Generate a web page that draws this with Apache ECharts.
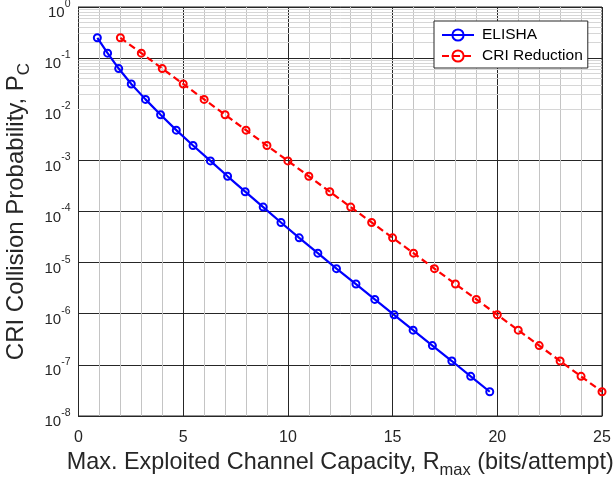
<!DOCTYPE html>
<html>
<head>
<meta charset="utf-8">
<script src="https://cdn.jsdelivr.net/npm/echarts@6/dist/echarts.min.js"></script>
<style>
html,body{margin:0;padding:0;background:#fff;}
#chart{width:613px;height:479px;}
</style>
</head>
<body>
<div id="chart"></div>
<script>
// Data
var elishaX = [0.90, 1.39, 1.92, 2.52, 3.20, 3.92, 4.67, 5.47, 6.30, 7.12, 7.96, 8.82, 9.67, 10.54, 11.43, 12.32, 13.25, 14.15, 15.07, 15.98, 16.90, 17.83, 18.73, 19.64];
var elishaY = [0.25, 0.125, 0.0625, 0.03125, 0.0156, 0.0078, 0.0039, 0.00195, 9.77e-4, 4.88e-4, 2.44e-4, 1.22e-4, 6.10e-5, 3.05e-5, 1.53e-5, 7.63e-6, 3.81e-6, 1.91e-6, 9.54e-7, 4.77e-7, 2.38e-7, 1.19e-7, 5.96e-8, 2.98e-8];
var criX = [2, 3, 4, 5, 6, 7, 8, 9, 10, 11, 12, 13, 14, 15, 16, 17, 18, 19, 20, 21, 22, 23, 24, 25];
var criY = [0.25, 0.125, 0.0625, 0.03125, 0.0156, 0.0078, 0.0039, 0.00195, 9.77e-4, 4.88e-4, 2.44e-4, 1.22e-4, 6.10e-5, 3.05e-5, 1.53e-5, 7.63e-6, 3.81e-6, 1.91e-6, 9.54e-7, 4.77e-7, 2.38e-7, 1.19e-7, 5.96e-8, 2.98e-8];
var xTicks = [0, 5, 10, 15, 20, 25];
var yDecades = [-8, -7, -6, -5, -4, -3, -2, -1, 0];
var minorMultipliers = [2, 3, 4, 5, 6, 7, 8, 9];

var FONT = 'Liberation Sans, Arial, sans-serif';
var TXT = '#262626';

function pairs(xs, ys) { return xs.map(function (x, i) { return [x, ys[i]]; }); }

var minorLines = [];
yDecades.slice(0, -1).forEach(function (d) {
  minorMultipliers.forEach(function (m) {
    minorLines.push({ yAxis: m * Math.pow(10, d) });
  });
});

var chart = echarts.init(document.getElementById('chart'), null, { renderer: 'canvas' });
chart.setOption({
  animation: false,
  backgroundColor: '#fff',
  textStyle: { fontFamily: FONT },
  grid: {
    left: 78.5, right: 11, top: 7, bottom: 63,
    containLabel: false, outerBoundsMode: 'none',
    show: true, borderColor: '#262626', borderWidth: 1, backgroundColor: 'transparent'
  },
  legend: {
    orient: 'vertical',
    left: 434, top: 21,
    padding: [6, 5, 4, 7],
    itemGap: 5,
    itemWidth: 32, itemHeight: 14,
    backgroundColor: '#fff',
    borderColor: '#262626', borderWidth: 1,
    z: 20,
    textStyle: { fontFamily: FONT, fontSize: 15.5, color: '#000', padding: [0, 0, 0, 3] },
    data: ['ELISHA', 'CRI Reduction']
  },
  xAxis: {
    type: 'value', min: 0, max: 25, interval: 5,
    axisLine: { show: true, onZero: false, lineStyle: { color: '#262626', width: 1 } },
    axisTick: { show: false },
    minorTick: { show: false, splitNumber: 5 },
    minorSplitLine: { show: true, lineStyle: { color: '#c4c4c4', width: 1 } },
    splitLine: { show: true, lineStyle: { color: '#262626', width: 1 } },
    axisLabel: {
      color: TXT, fontSize: 16, fontFamily: FONT, margin: 14,
      formatter: function (v) { return xTicks.indexOf(v) >= 0 ? String(v) : ''; }
    },
    name: '{a|Max. Exploited Channel Capacity, R}{s|max}{a| (bits/attempt)}',
    nameLocation: 'middle', nameGap: 32,
    nameTextStyle: {
      color: TXT,
      rich: {
        a: { fontSize: 23.4, fontFamily: FONT, color: TXT, lineHeight: 28, verticalAlign: 'top' },
        s: { fontSize: 16.5, fontFamily: FONT, color: TXT, lineHeight: 16, verticalAlign: 'bottom' }
      }
    }
  },
  yAxis: {
    type: 'log', logBase: 10, min: 1e-8, max: 1,
    axisLine: { show: true, lineStyle: { color: '#262626', width: 1 } },
    axisTick: { show: false },
    splitLine: { show: true, lineStyle: { color: '#262626', width: 1 } },
    axisLabel: {
      margin: 8,
      padding: [5, 0, 0, 0],
      formatter: function (v) {
        var e = Math.round(Math.log10(v));
        return '{b|10}{s|' + e + '}';
      },
      rich: {
        b: { fontSize: 15, fontFamily: FONT, color: TXT, lineHeight: 22, verticalAlign: 'bottom' },
        s: { fontSize: 10.5, fontFamily: FONT, color: TXT, lineHeight: 12, verticalAlign: 'top' }
      }
    },
    name: '{a|CRI Collision Probability, P}{s|C}',
    nameLocation: 'middle', nameGap: 46,
    nameTextStyle: {
      color: TXT,
      rich: {
        a: { fontSize: 24, fontFamily: FONT, color: TXT, lineHeight: 28, verticalAlign: 'top' },
        s: { fontSize: 17, fontFamily: FONT, color: TXT, lineHeight: 16, verticalAlign: 'bottom' }
      }
    }
  },
  series: [
    {
      name: 'minor', type: 'line', data: [], silent: true, z: 1,
      markLine: {
        silent: true, symbol: 'none', label: { show: false }, z: 1,
        lineStyle: { color: '#d6d6d6', width: 1, type: 'solid' },
        emphasis: { disabled: true },
        animation: false,
        data: minorLines
      }
    },
    {
      name: 'ELISHA', type: 'line', data: pairs(elishaX, elishaY),
      symbol: 'circle', symbolSize: 7,
      lineStyle: { color: '#0000ff', width: 2.2, type: 'solid' },
      itemStyle: { color: 'rgba(255,255,255,0)', borderColor: '#0000ff', borderWidth: 2 },
      z: 10
    },
    {
      name: 'CRI Reduction', type: 'line', data: pairs(criX, criY),
      symbol: 'circle', symbolSize: 7,
      lineStyle: { color: '#ff0000', width: 2.2, type: [7, 4] },
      itemStyle: { color: 'rgba(255,255,255,0)', borderColor: '#ff0000', borderWidth: 2 },
      z: 10
    }
  ]
});
</script>
</body>
</html>
